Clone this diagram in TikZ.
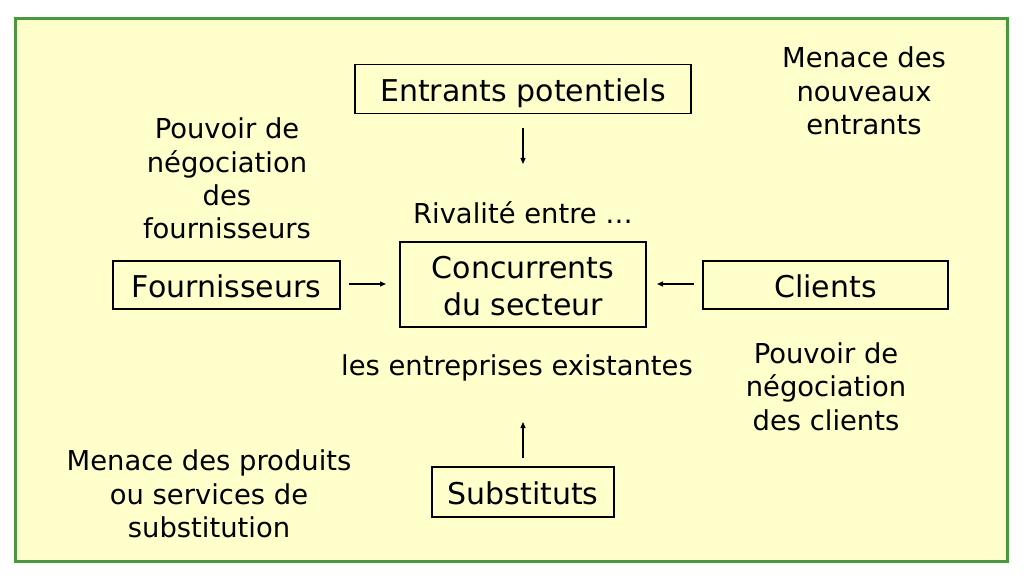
\documentclass[tikz,border=0pt]{standalone}
\usepackage{fontspec}
\setmainfont{DejaVu Sans}
\usetikzlibrary{arrows.meta}
\definecolor{panelfill}{RGB}{255,255,204}
\definecolor{panelgreen}{RGB}{72,152,60}
\tikzset{
  boxnode/.style={draw=black, line width=1.2pt, inner sep=0pt,
    font=\fontsize{30}{36.5}\selectfont, text height=27pt, text depth=2pt},
  twoline/.style={text height=62pt, text depth=1pt},
  label/.style={inner sep=0pt, align=center, font=\fontsize{27.4}{33.3}\selectfont},
  forcearrow/.style={line width=1.2pt, -{Triangle[length=6pt,width=5pt]}}
}
\begin{document}
\begin{tikzpicture}[x=1pt,y=-1pt]
\useasboundingbox (0,0) rectangle (1024,577);
\fill[white] (0,0) rectangle (1024,577);
\draw[panelgreen, line width=3pt, fill=panelfill] (15.5,19) rectangle (1007,561);

\node[boxnode, minimum width=336pt, minimum height=49pt] (ent) at (523,89) {Entrants potentiels};
\node[boxnode, twoline, minimum width=246pt, minimum height=85pt] (conc) at (523,284.5)
  {\begin{tabular}[b]{@{}c@{}}Concurrents\\du secteur\end{tabular}};
\node[boxnode, minimum width=227pt, minimum height=48pt] (four) at (226.5,285) {Fournisseurs};
\node[boxnode, minimum width=245pt, minimum height=48pt] (cli) at (825.5,285) {Clients};
\node[boxnode, minimum width=182pt, minimum height=50pt] (subs) at (523,492) {Substituts};

\node[label] (pfour) at (227,178.5) {Pouvoir de\\négociation\\des\\fournisseurs};
\node[label] (menn) at (864,91) {Menace des\\nouveaux\\entrants};
\node[label] (riv) at (523,213) {Rivalité entre …};
\node[label] (exist) at (517,367.5) {les entreprises existantes};
\node[label] (pcli) at (826,386.5) {Pouvoir de\\négociation\\des clients};
\node[label] (msub) at (209,494) {Menace des produits\\ou services de\\substitution};

\coordinate (d1) at (523,128); \coordinate (d2) at (523,164);
\coordinate (l1) at (349,284); \coordinate (l2) at (386,284);
\coordinate (r1) at (694,284); \coordinate (r2) at (657,284);
\coordinate (u1) at (523,458); \coordinate (u2) at (523,422);

\draw[forcearrow] (d1) -- (d2);
\draw[forcearrow] (l1) -- (l2);
\draw[forcearrow] (r1) -- (r2);
\draw[forcearrow] (u1) -- (u2);
\end{tikzpicture}
\end{document}
